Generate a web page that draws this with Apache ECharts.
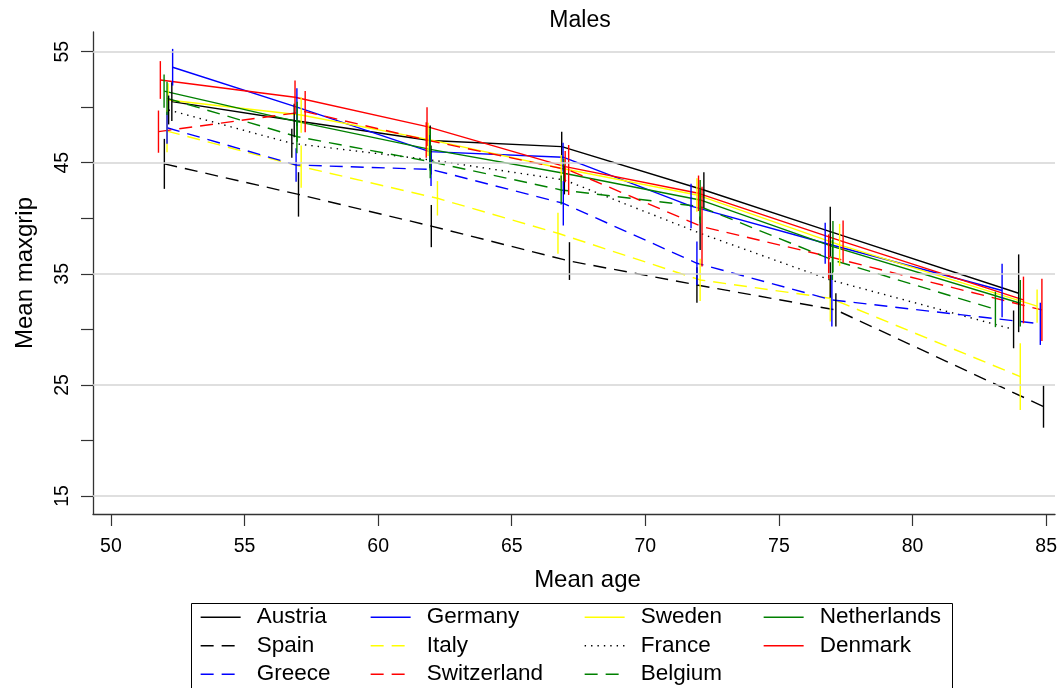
<!DOCTYPE html>
<html>
<head>
<meta charset="utf-8">
<script src="https://cdn.jsdelivr.net/npm/echarts@6/dist/echarts.min.js"></script>
<style>
html,body{margin:0;padding:0;background:#fff;}
#c{width:1062px;height:688px;}
</style>
</head>
<body>
<div id="c"></div>
<script>
// Each point: [mean age, mean maxgrip, half-width of the vertical bar]
const austria = [[52.28,50.5,1.75],[56.86,48.8,1.5],[61.95,47.0,1.35],[66.87,46.45,1.35],[72.19,42.55,1.6],[76.92,38.8,2.25],[83.97,33.25,3.5]];
const germany = [[52.31,53.6,1.65],[56.96,50.0,1.7],[61.93,46.0,1.5],[66.92,45.5,1.3],[71.71,41.1,2.0],[76.73,37.75,1.85],[83.35,33.5,2.4]];
const sweden = [[52.14,50.65,1.5],[57.12,49.3,1.6],[61.87,47.1,1.5],[66.85,44.5,1.2],[71.93,42.1,1.5],[77.27,37.6,1.9],[84.66,32.1,1.5]];
const netherlands = [[51.99,51.45,1.5],[56.97,48.7,1.8],[61.95,46.2,1.9],[66.95,44.05,1.3],[72.05,41.65,1.8],[77.02,37.45,2.3],[84.03,32.35,2.1]];
const spain = [[52.0,44.9,2.25],[57.02,42.15,2.0],[61.99,39.3,1.9],[67.16,36.15,1.7],[71.93,34.0,1.6],[77.13,31.75,1.5],[84.9,23.05,1.9]];
const italy = [[52.1,47.85,1.9],[57.12,44.65,1.9],[62.22,41.8,1.55],[66.73,38.65,1.85],[72.05,34.45,1.9],[76.92,32.8,2.1],[84.03,25.75,3.0]];
const france = [[52.16,49.75,1.3],[56.77,46.75,1.3],[61.98,45.25,1.3],[66.97,43.45,1.3],[72.05,38.65,1.5],[76.92,34.45,1.6],[83.78,30.0,1.7]];
const denmark = [[51.85,52.45,1.7],[56.89,50.9,1.5],[61.83,48.25,1.75],[67.0,44.65,1.4],[71.99,42.25,1.6],[77.4,37.9,1.9],[84.15,32.65,2.1]];
const greece = [[52.1,48.15,1.45],[56.93,44.8,1.5],[61.98,44.4,1.5],[66.93,41.35,2.0],[71.93,35.95,1.95],[76.98,32.65,2.4],[84.78,30.5,1.9]];
const switzerland = [[51.78,47.8,1.9],[57.27,49.6,1.85],[61.8,47.05,1.6],[67.13,44.35,2.25],[72.12,39.25,3.6],[76.86,36.55,2.0],[84.84,31.75,2.8]];
const belgium = [[52.1,50.8,1.5],[56.96,47.35,1.5],[61.95,45.1,1.5],[66.85,42.55,1.3],[72.05,41.05,1.5],[77.0,36.25,1.8],[83.1,31.8,1.6]];

const countries = ['Austria','Germany','Sweden','Netherlands','Spain','Italy','France','Denmark','Greece','Switzerland','Belgium'];
const countryData = [austria,germany,sweden,netherlands,spain,italy,france,denmark,greece,switzerland,belgium];

const xTicks = [50,55,60,65,70,75,80,85];
const yTicks = [15,20,25,30,35,40,45,50,55];
const yLabels = [15,25,35,45,55];
const gridValues = [15,25,35,45,55];

const colors = {
  Austria:'#000000', Germany:'#0000ff', Sweden:'#ffff00', Netherlands:'#008000',
  Spain:'#000000', Italy:'#ffff00', France:'#000000', Denmark:'#ff0000',
  Greece:'#0000ff', Switzerland:'#ff0000', Belgium:'#008000'
};
const DASH = [13, 8];
const DOT = [1.4, 5];
const styles = {
  Austria:'solid', Germany:'solid', Sweden:'solid', Netherlands:'solid',
  Spain:DASH, Italy:DASH, France:DOT, Denmark:'solid',
  Greece:DASH, Switzerland:DASH, Belgium:DASH
};

const FONT = 'Liberation Sans, Arial, Helvetica, sans-serif';
const series = [];

series.push({
  name: 'gridlines', type: 'line', data: [], silent: true, z: 0,
  markLine: {
    silent: true, symbol: ['none','none'], label: {show:false},
    lineStyle: {color:'#d4d4d4', width:1.5, type:'solid'},
    animation: false,
    data: gridValues.map(v => ({yAxis: v}))
  }
});

countries.forEach((name, i) => {
  const d = countryData[i];
  series.push({
    name: name, type: 'line', symbol: 'none', showSymbol: false,
    data: d.map(p => [p[0], p[1]]),
    lineStyle: {color: colors[name], width: 1.4, type: styles[name]},
    itemStyle: {color: colors[name]},
    z: 3
  });
});
countries.forEach((name, i) => {
  const d = countryData[i];
  series.push({
    name: name + ' CI', type: 'custom',
    data: d.map(p => [p[0], p[1]-p[2], p[1]+p[2]]),
    renderItem: function (params, api) {
      const a = api.coord([api.value(0), api.value(1)]);
      const b = api.coord([api.value(0), api.value(2)]);
      return {type:'line', shape:{x1:a[0], y1:a[1], x2:b[0], y2:b[1]},
              style:{stroke: colors[name], lineWidth: 1.4}};
    },
    z: 4
  });
});

const legendCols = [
  {left:200, items:['Austria','Spain','Greece']},
  {left:370, items:['Germany','Italy','Switzerland']},
  {left:584, items:['Sweden','France','Belgium']},
  {left:763, items:['Netherlands','Denmark']}
];
const legends = legendCols.map(c => ({
  orient:'vertical', left:c.left, top:603, height:120, padding:0, itemGap:0,
  itemWidth:40, itemHeight:14, selectedMode:false,
  itemStyle:{opacity:0, borderWidth:0},
  lineStyle:{width:1.3},
  data:c.items,
  textStyle:{fontFamily:FONT, fontSize:22.5, color:'#000', lineHeight:28.5, padding:[0,0,0,11]}
}));

const chart = echarts.init(document.getElementById('c'), null, {renderer:'canvas'});
chart.setOption({
  animation:false,
  backgroundColor:'#fff',
  title:{text:'Males', left:575, textAlign:'center', top:4,
    textStyle:{fontFamily:FONT, fontSize:23, fontWeight:'normal', color:'#000'}},
  legend: legends,
  graphic:[{type:'rect', left:189, top:601, shape:{width:761, height:120},
    style:{fill:'none', stroke:'#000', lineWidth:1}, silent:true, z:-1}],
  grid:{left:93, top:32, right:7, bottom:174, containLabel:false},
  xAxis:{type:'value', min:49.33, max:85.33,
    name:'Mean age', nameLocation:'middle', nameGap:54,
    nameTextStyle:{fontFamily:FONT, fontSize:24, color:'#000', padding:[0,0,0,27]},
    axisLine:{show:true, lineStyle:{color:'#333', width:1.3}},
    axisTick:{show:true, length:12, customValues:xTicks, lineStyle:{color:'#333', width:1.2}},
    axisLabel:{customValues:xTicks, margin:23, fontFamily:FONT, fontSize:19.5, color:'#000'},
    splitLine:{show:false}},
  yAxis:{type:'value', min:13.38, max:56.77,
    name:'Mean maxgrip', nameLocation:'middle', nameGap:56,
    nameTextStyle:{fontFamily:FONT, fontSize:24, color:'#000'},
    axisLine:{show:true, lineStyle:{color:'#333', width:1.3}},
    axisTick:{show:true, length:12, customValues:yTicks, lineStyle:{color:'#333', width:1.2}},
    axisLabel:{customValues:yLabels, rotate:90, margin:20, fontFamily:FONT, fontSize:19.5, color:'#000'},
    splitLine:{show:false}},
  series: series
});
</script>
</body>
</html>
